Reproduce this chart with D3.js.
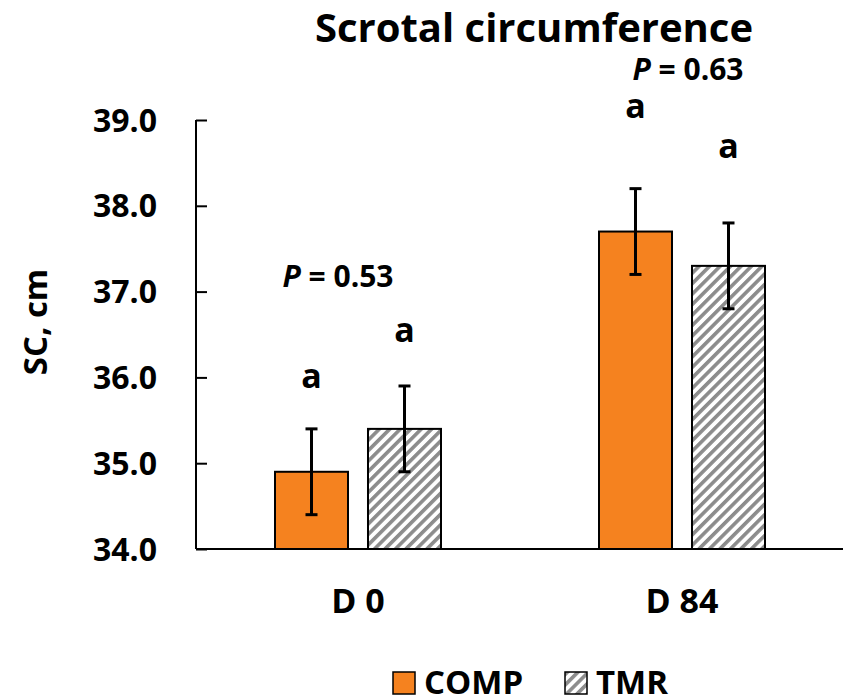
<!DOCTYPE html>
<html>
<head>
<meta charset="utf-8">
<script src="https://cdn.jsdelivr.net/npm/d3@7"></script>
<style>
  body { margin: 0; background: #fff; }
  svg text { font-family: "Open Sans", Lato, sans-serif; font-weight: bold; fill: #000; }
</style>
</head>
<body>
<div id="chart"></div>
<script>
// chart data
const days = ["D 0", "D 84"];
const groups = ["COMP", "TMR"];
const compValues = [34.9, 37.7];
const tmrValues = [35.4, 37.3];
const compErr = [0.5, 0.5];
const tmrErr = [0.5, 0.5];
const yTicks = [34, 35, 36, 37, 38, 39];

// letters and P values (baseline y in data units)
const letters = [
  { day: "D 0", group: "COMP", text: "a", y: 35.88 },
  { day: "D 0", group: "TMR", text: "a", y: 36.41 },
  { day: "D 84", group: "COMP", text: "a", y: 39.02 },
  { day: "D 84", group: "TMR", text: "a", y: 38.56 }
];
const pLabels = [
  { day: "D 0", value: "0.53", y: 37.05, dx: -20 },
  { day: "D 84", value: "0.63", y: 39.47, dx: 6 }
];

const width = 846, height = 699;
const margin = { left: 196, right: 2 };

const svg = d3.select("#chart").append("svg")
  .attr("width", width)
  .attr("height", height);

// hatch pattern for TMR
const defs = svg.append("defs");
const pat = defs.append("pattern")
  .attr("id", "hatch")
  .attr("patternUnits", "userSpaceOnUse")
  .attr("width", 7.4)
  .attr("height", 7.4)
  .attr("patternTransform", "rotate(45)");
pat.append("rect").attr("width", 7.4).attr("height", 7.4).attr("fill", "#fff");
pat.append("rect").attr("width", 3.6).attr("height", 7.4).attr("fill", "#8c8c8c");

const x0 = d3.scaleBand()
  .domain(days)
  .range([margin.left, width - margin.right]);

const x1 = d3.scaleBand()
  .domain(groups)
  .range([0, 166])
  .paddingInner(0.215);

const y = d3.scaleLinear()
  .domain([34, 39])
  .range([549, 120]);

const barData = [];
days.forEach((d, i) => {
  barData.push({ day: d, group: "COMP", value: compValues[i], err: compErr[i] });
  barData.push({ day: d, group: "TMR", value: tmrValues[i], err: tmrErr[i] });
});

const bx = (d) => x0(d.day) + x0.bandwidth() / 2 - 83 + x1(d.group);

// bars
svg.selectAll(".bar")
  .data(barData)
  .enter()
  .append("rect")
  .attr("class", "bar")
  .attr("x", bx)
  .attr("y", (d) => y(d.value))
  .attr("width", x1.bandwidth())
  .attr("height", (d) => y(34) - y(d.value))
  .attr("fill", (d) => (d.group === "COMP" ? "#f5821f" : "url(#hatch)"))
  .attr("stroke", "#000")
  .attr("stroke-width", 2);

// error bars
const eb = svg.selectAll(".err")
  .data(barData)
  .enter()
  .append("g")
  .attr("class", "err")
  .attr("transform", (d) => `translate(${bx(d) + x1.bandwidth() / 2},0)`);
eb.append("line")
  .attr("y1", (d) => y(d.value - d.err))
  .attr("y2", (d) => y(d.value + d.err))
  .attr("stroke", "#000")
  .attr("stroke-width", 3);
eb.selectAll(".cap")
  .data((d) => [d.value - d.err, d.value + d.err])
  .enter()
  .append("line")
  .attr("x1", -6)
  .attr("x2", 6)
  .attr("y1", (v) => y(v))
  .attr("y2", (v) => y(v))
  .attr("stroke", "#000")
  .attr("stroke-width", 3);

// y axis (ticks point inward)
const yAxis = svg.append("g")
  .attr("transform", `translate(${margin.left},0)`)
  .call(d3.axisRight(y).tickValues(yTicks).tickSize(11).tickFormat(""));
yAxis.select(".domain").remove();
yAxis.selectAll("line").attr("stroke", "#000").attr("stroke-width", 2);
svg.append("line")
  .attr("x1", margin.left).attr("x2", margin.left)
  .attr("y1", y(39)).attr("y2", y(34))
  .attr("stroke", "#000").attr("stroke-width", 2);

svg.selectAll(".ytick")
  .data(yTicks)
  .enter()
  .append("text")
  .attr("class", "ytick")
  .attr("x", 157)
  .attr("y", (d) => y(d))
  .attr("dy", "0.36em")
  .attr("text-anchor", "end")
  .style("font-size", "32px")
  .text((d) => d.toFixed(1));

// x axis
svg.append("line")
  .attr("x1", margin.left).attr("x2", width - margin.right - 1)
  .attr("y1", y(34)).attr("y2", y(34))
  .attr("stroke", "#000").attr("stroke-width", 2);

svg.selectAll(".xlab")
  .data(days)
  .enter()
  .append("text")
  .attr("class", "xlab")
  .attr("x", (d) => x0(d) + x0.bandwidth() / 2)
  .attr("y", 613)
  .attr("text-anchor", "middle")
  .style("font-size", "34px")
  .text((d) => d);

// y label
svg.append("text")
  .attr("transform", "translate(47,322) rotate(-90)")
  .attr("text-anchor", "middle")
  .style("font-size", "33px")
  .text("SC, cm");

// title
svg.append("text")
  .attr("x", 534)
  .attr("y", 42)
  .attr("text-anchor", "middle")
  .style("font-size", "40px")
  .text("Scrotal circumference");

// letters
svg.selectAll(".letter")
  .data(letters)
  .enter()
  .append("text")
  .attr("class", "letter")
  .attr("x", (d) => bx(d) + x1.bandwidth() / 2)
  .attr("y", (d) => y(d.y))
  .attr("text-anchor", "middle")
  .style("font-size", "34px")
  .text((d) => d.text);

// P values
const pt = svg.selectAll(".pval")
  .data(pLabels)
  .enter()
  .append("text")
  .attr("class", "pval")
  .attr("x", (d) => x0(d.day) + x0.bandwidth() / 2 + d.dx)
  .attr("y", (d) => y(d.y))
  .attr("text-anchor", "middle")
  .style("font-size", "30px");
pt.append("tspan").style("font-style", "italic").text("P");
pt.append("tspan").text((d) => " = " + d.value);

// legend
const legend = svg.append("g").attr("transform", "translate(393,672)");
const legItems = [
  { label: "COMP", fill: "#f5821f", x: 0 },
  { label: "TMR", fill: "url(#hatch)", x: 172 }
];
const li = legend.selectAll("g")
  .data(legItems)
  .enter()
  .append("g")
  .attr("transform", (d) => `translate(${d.x},0)`);
li.append("rect")
  .attr("width", 22)
  .attr("height", 22)
  .attr("fill", (d) => d.fill)
  .attr("stroke", "#000")
  .attr("stroke-width", 1.5);
li.append("text")
  .attr("x", 31)
  .attr("y", 22)
  .style("font-size", "33px")
  .text((d) => d.label);
</script>
</body>
</html>
